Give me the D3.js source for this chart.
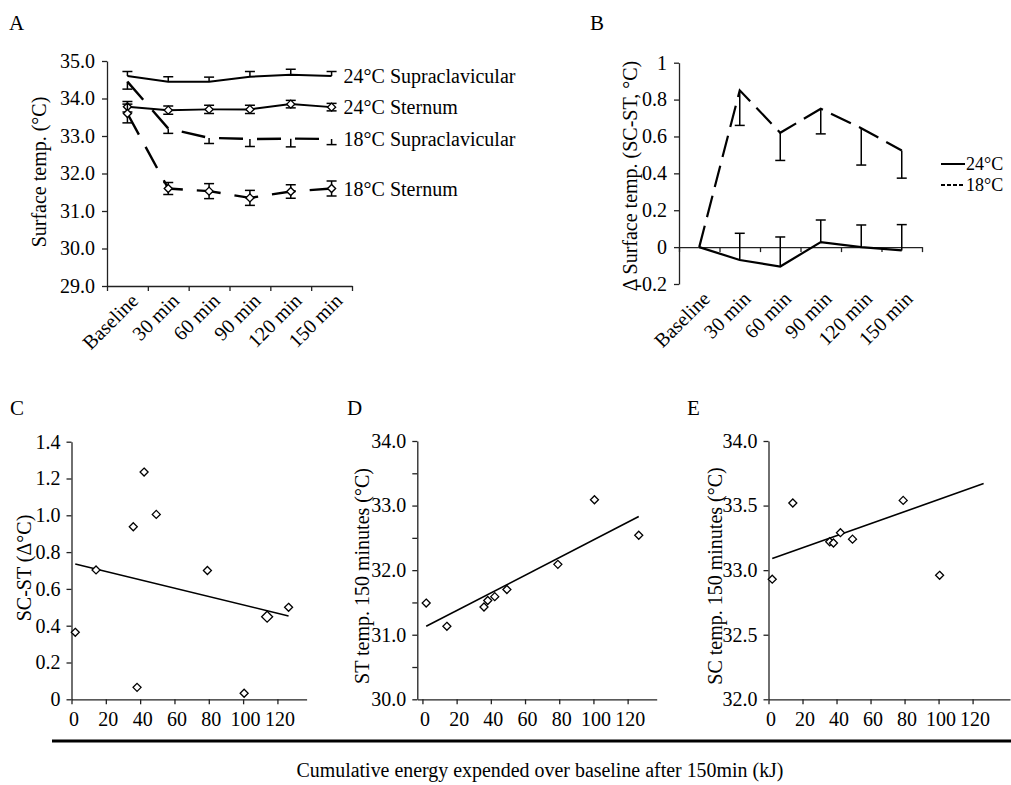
<!DOCTYPE html>
<html>
<head>
<meta charset="utf-8">
<script src="https://cdnjs.cloudflare.com/ajax/libs/d3/7.8.5/d3.min.js"></script>
<style>
    body { margin: 0; background: #fff; }
    .axis path, .axis line { stroke: #222; stroke-width: 1.3; }
</style>
</head>
<body>
<div id="chart"></div>
<script>

// ---- data ----
var timeLabels = ["Baseline", "30 min", "60 min", "90 min", "120 min", "150 min"];

// A: surface temperature (mean, SE)
var seriesNamesA = ["24°C Supraclavicular", "24°C Sternum", "18°C Supraclavicular", "18°C Sternum"];
var sc24 = [34.60, 34.45, 34.45, 34.58, 34.63, 34.60];
var sc24Err = [0.12, 0.13, 0.12, 0.14, 0.15, 0.12];
var st24 = [33.78, 33.69, 33.71, 33.71, 33.85, 33.77];
var st24Err = [0.14, 0.11, 0.11, 0.11, 0.10, 0.10];
var sc18 = [34.45, 33.20, 32.95, 32.92, 32.93, 32.92];
var sc18Err = [0.20, 0.13, 0.15, 0.20, 0.22, 0.15];
var st18 = [33.60, 31.60, 31.53, 31.35, 31.52, 31.60];
var st18Err = [0.25, 0.16, 0.20, 0.20, 0.18, 0.20];
var yTicksA = [29, 30, 31, 32, 33, 34, 35];

// B: delta surface temp (SC-ST)
var legendNamesB = ["24°C", "18°C"];
var diff24 = [0, -0.07, -0.105, 0.027, 0, -0.018];
var diff24Err = [0, 0.145, 0.16, 0.12, 0.12, 0.14];
var diff18 = [0, 0.85, 0.62, 0.75, 0.645, 0.524];
var diff18Err = [0, 0.19, 0.15, 0.136, 0.20, 0.15];
var yTicksB = [-0.2, 0, 0.2, 0.4, 0.6, 0.8, 1];

// C-E: cumulative energy (kJ) vs temperatures
var energy = [2.2, 14.3, 36.0, 38.2, 42.3, 49.4, 79.2, 100.6, 114.0, 126.5];
var scMinusSt = [0.364, 0.703, 0.938, 0.065, 1.235, 1.005, 0.70, 0.033, 0.449, 0.50];
var st150 = [31.49, 31.13, 31.43, 31.53, 31.59, 31.70, 32.09, 33.09, null, 32.54];
var sc150 = [32.93, 33.52, 33.22, 33.21, 33.29, 33.24, 33.54, 32.96, null, null];
var trendC = [[2.2, 0.735], [126.5, 0.453]];
var trendD = [[2.2, 31.13], [126.5, 32.83]];
var trendE = [[2.2, 33.09], [126.5, 33.67]];
var xTicksEnergy = [0, 20, 40, 60, 80, 100, 120];
var yTicksC = [0, 0.2, 0.4, 0.6, 0.8, 1.0, 1.2, 1.4];
var yTicksD = [30, 30.5, 31, 31.5, 32, 32.5, 33, 33.5, 34];
var yTicksE = [32, 32.5, 33, 33.5, 34];

var xTitle = "Cumulative energy expended over baseline after 150min (kJ)";

var FONT = "'Liberation Serif'";

var svg = d3.select("#chart").append("svg")
    .attr("width", 1011)
    .attr("height", 785);

var diamond = function(r) {
    return "M0," + (-r) + "L" + r + ",0L0," + r + "L" + (-r) + ",0Z";
};

// every text gets the serif face and black fill
var styleText = function(sel, size) {
    return sel.attr("font-family", null).style("font-family", FONT)
        .style("font-size", size + "px").attr("fill", "#000");
};


/*
 * Time course panel (A, B)
 */
TimePanel = function(_config){
    this.config = _config;
    this.initVis();
}

TimePanel.prototype.initVis = function(){
    var vis = this;
    var c = vis.config;

    vis.g = svg.append("g");

    vis.x = d3.scaleBand().domain(timeLabels).range([c.left, c.right]);
    vis.xi = d3.scaleLinear().domain([0, timeLabels.length]).range([c.left, c.right]);
    vis.y = d3.scaleLinear().domain(c.yDomain).range([c.bottom, c.top]);

    // panel letter
    styleText(vis.g.append("text").attr("x", c.letterX).attr("y", 30), 21).text(c.letter);

    // y axis
    var ya = vis.g.append("g").attr("class", "axis")
        .attr("transform", "translate(" + c.left + ",0)")
        .call(d3.axisLeft(vis.y).tickValues(c.yTicks).tickFormat(c.yFormat)
            .tickSize(5).tickSizeOuter(0).tickPadding(7));
    ya.attr("font-family", null);
    styleText(ya.selectAll("text"), 20);

    // x axis (ticks at category boundaries)
    vis.g.append("g").attr("class", "axis")
        .attr("transform", "translate(0," + vis.y(c.xAxisAt) + ")")
        .call(d3.axisBottom(vis.xi).ticks(timeLabels.length).tickFormat("")
            .tickSize(5).tickSizeOuter(0));

    styleText(vis.g.selectAll(".xlab").data(timeLabels).enter().append("text")
        .attr("class", "xlab")
        .attr("text-anchor", "end")
        .attr("transform", function(d){
            return "translate(" + (vis.x(d) + vis.x.bandwidth() / 2 + 12) + "," + (c.bottom + 16) + ") rotate(-45)";
        }), 20)
        .text(function(d){ return d; });

    // y title
    styleText(vis.g.append("text")
        .attr("transform", "translate(" + c.yLabelX + "," + c.yLabelY + ") rotate(-90)")
        .attr("text-anchor", "middle").attr("dy", "0.35em"), 20)
        .text(c.yLabel);

    vis.updateVis();
}

TimePanel.prototype.updateVis = function(){
    var vis = this;
    var c = vis.config;
    var cx = function(d){ return vis.x(d.label) + vis.x.bandwidth() / 2; };

    c.series.forEach(function(s){
        var pts = s.values.map(function(v, i){ return { label: timeLabels[i], v: v, e: s.err[i] }; });

        // error bars
        var eb = vis.g.append("g");
        pts.filter(function(d){ return d.e > 0; }).forEach(function(d){
            var hi = (s.errDir === "down") ? d.v : d.v + d.e;
            var lo = (s.errDir === "up") ? d.v : d.v - d.e;
            eb.append("line").attr("x1", cx(d)).attr("x2", cx(d))
                .attr("y1", vis.y(hi)).attr("y2", vis.y(lo));
            if (s.errDir !== "down")
                eb.append("line").attr("x1", cx(d) - 5).attr("x2", cx(d) + 5)
                    .attr("y1", vis.y(hi)).attr("y2", vis.y(hi));
            if (s.errDir !== "up")
                eb.append("line").attr("x1", cx(d) - 5).attr("x2", cx(d) + 5)
                    .attr("y1", vis.y(lo)).attr("y2", vis.y(lo));
        });
        eb.selectAll("line").attr("stroke", "#000").attr("stroke-width", 1.5);

        // line
        vis.g.append("path").datum(pts)
            .attr("d", d3.line().x(cx).y(function(d){ return vis.y(d.v); }))
            .attr("fill", "none")
            .attr("stroke", "#000")
            .attr("stroke-width", s.width)
            .attr("stroke-dasharray", s.dash);

        // markers
        if (s.marker) {
            vis.g.selectAll(null).data(pts).enter().append("path")
                .attr("d", diamond(4))
                .attr("transform", function(d){ return "translate(" + cx(d) + "," + vis.y(d.v) + ")"; })
                .attr("fill", "#fff").attr("stroke", "#000").attr("stroke-width", 1.4);
        }

        // end label
        if (c.endLabels) {
            var last = pts[pts.length - 1];
            styleText(vis.g.append("text")
                .attr("x", cx(last) + 12).attr("y", vis.y(last.v))
                .attr("dy", "0.35em"), 20)
                .text(s.name);
        }
    });

    // legend
    if (c.legend) {
        c.legend.forEach(function(l, i){
            var ly = c.legendY + i * 21;
            vis.g.append("line").attr("x1", c.legendX).attr("x2", c.legendX + 24)
                .attr("y1", ly).attr("y2", ly)
                .attr("stroke", "#000").attr("stroke-width", 2)
                .attr("stroke-dasharray", l.dash);
            styleText(vis.g.append("text").attr("x", c.legendX + 25).attr("y", ly)
                .attr("dy", "0.35em"), 18).text(l.name);
        });
    }
}


/*
 * Scatter panel (C, D, E)
 */
ScatterPanel = function(_config){
    this.config = _config;
    this.initVis();
}

ScatterPanel.prototype.initVis = function(){
    var vis = this;
    var c = vis.config;

    vis.g = svg.append("g");
    vis.x = d3.scaleLinear().domain(c.xDomain).range([c.left, c.right]);
    vis.y = d3.scaleLinear().domain(c.yDomain).range([c.bottom, c.top]);

    styleText(vis.g.append("text").attr("x", c.letterX).attr("y", 415), 21).text(c.letter);

    var ya = vis.g.append("g").attr("class", "axis")
        .attr("transform", "translate(" + c.left + ",0)")
        .call(d3.axisLeft(vis.y).tickValues(c.yTicks).tickFormat(c.yFormat)
            .tickSize(5).tickSizeOuter(0).tickPadding(6));
    ya.attr("font-family", null);
    styleText(ya.selectAll("text"), 20);

    var xa = vis.g.append("g").attr("class", "axis")
        .attr("transform", "translate(0," + c.bottom + ")")
        .call(d3.axisBottom(vis.x).tickValues(xTicksEnergy).tickFormat(d3.format("d"))
            .tickSize(5).tickSizeOuter(0).tickPadding(8));
    xa.attr("font-family", null);
    styleText(xa.selectAll("text"), 20).attr("dx", 2);

    styleText(vis.g.append("text")
        .attr("transform", "translate(" + c.yLabelX + "," + c.yLabelY + ") rotate(-90)")
        .attr("text-anchor", "middle").attr("dy", "0.35em"), 20)
        .text(c.yLabel);

    vis.wrangleData();
}

ScatterPanel.prototype.wrangleData = function(){
    var vis = this;
    vis.displayData = energy.map(function(e, i){ return { x: e, y: vis.config.values[i], i: i }; })
        .filter(function(d){ return d.y !== null; });
    vis.updateVis();
}

ScatterPanel.prototype.updateVis = function(){
    var vis = this;
    var c = vis.config;

    vis.g.append("path").datum(c.trend)
        .attr("d", d3.line().x(function(d){ return vis.x(d[0]); }).y(function(d){ return vis.y(d[1]); }))
        .attr("fill", "none").attr("stroke", "#000").attr("stroke-width", 1.6);

    vis.g.selectAll(".pt").data(vis.displayData).enter().append("path")
        .attr("class", "pt")
        .attr("d", function(d){ return diamond(d.i === c.bigIndex ? 5.5 : 4); })
        .attr("transform", function(d){ return "translate(" + vis.x(d.x) + "," + vis.y(d.y) + ")"; })
        .attr("fill", "#fff").attr("stroke", "#000").attr("stroke-width", 1.3);
}


// ---- panels ----
var fmt1 = d3.format(".1f");

new TimePanel({
    letter: "A", letterX: 9,
    left: 107, right: 352, top: 61, bottom: 286,
    yDomain: [29, 35], yTicks: yTicksA, yFormat: fmt1, xAxisAt: 29,
    yLabel: "Surface temp. (°C)", yLabelX: 39, yLabelY: 172,
    endLabels: true,
    series: [
        { name: seriesNamesA[0], values: sc24, err: sc24Err, errDir: "up", width: 2, dash: null, marker: false },
        { name: seriesNamesA[1], values: st24, err: st24Err, errDir: "both", width: 2, dash: null, marker: true },
        { name: seriesNamesA[2], values: sc18, err: sc18Err, errDir: "down", width: 2.4, dash: "24,14", marker: false },
        { name: seriesNamesA[3], values: st18, err: st18Err, errDir: "both", width: 2.4, dash: "24,14", marker: true }
    ]
});

new TimePanel({
    letter: "B", letterX: 590,
    left: 679, right: 922, top: 62.7, bottom: 284,
    yDomain: [-0.2, 1], yTicks: yTicksB,
    yFormat: function(d){ return (d === 0 || d === 1) ? String(d) : d.toFixed(1); },
    xAxisAt: 0,
    yLabel: "\u0394 Surface temp. (SC-ST, °C)", yLabelX: 630, yLabelY: 176,
    endLabels: false,
    series: [
        { name: legendNamesB[0], values: diff24, err: diff24Err, errDir: "up", width: 2.2, dash: null, marker: false },
        { name: legendNamesB[1], values: diff18, err: diff18Err, errDir: "down", width: 2.2, dash: "22,9", marker: false }
    ],
    legend: [
        { name: legendNamesB[0], dash: null },
        { name: legendNamesB[1], dash: "4,2" }
    ],
    legendX: 941, legendY: 164
});

new ScatterPanel({
    letter: "C", letterX: 10,
    left: 71.5, right: 306.6, top: 441.7, bottom: 699.3,
    xDomain: [0, 137], yDomain: [0, 1.4], yTicks: yTicksC,
    yFormat: function(d){ return d === 0 ? "0" : fmt1(d); },
    yLabel: "SC-ST (\u0394°C)", yLabelX: 24, yLabelY: 568,
    values: scMinusSt, trend: trendC, bigIndex: 8
});

new ScatterPanel({
    letter: "D", letterX: 347,
    left: 417.3, right: 656.7, top: 441, bottom: 699.3,
    xDomain: [-3, 137], yDomain: [30, 34], yTicks: yTicksD,
    yFormat: function(d){ return d % 1 === 0 ? fmt1(d) : ""; },
    yLabel: "ST temp. 150 minutes (°C)", yLabelX: 362, yLabelY: 576,
    values: st150, trend: trendD, bigIndex: -1
});

new ScatterPanel({
    letter: "E", letterX: 687,
    left: 768.5, right: 1010, top: 441, bottom: 699.3,
    xDomain: [0, 142], yDomain: [32, 34], yTicks: yTicksE,
    yFormat: fmt1,
    yLabel: "SC temp. 150 minutes (°C)", yLabelX: 715, yLabelY: 576,
    values: sc150, trend: trendE, bigIndex: -1
});

// shared x title
svg.append("line")
    .attr("x1", 52).attr("x2", 1011).attr("y1", 741).attr("y2", 741)
    .attr("stroke", "#000").attr("stroke-width", 3);

styleText(svg.append("text")
    .attr("x", 540).attr("y", 777)
    .attr("text-anchor", "middle")
    .attr("textLength", 487).attr("lengthAdjust", "spacingAndGlyphs"), 20)
    .text(xTitle);

</script>
</body>
</html>
